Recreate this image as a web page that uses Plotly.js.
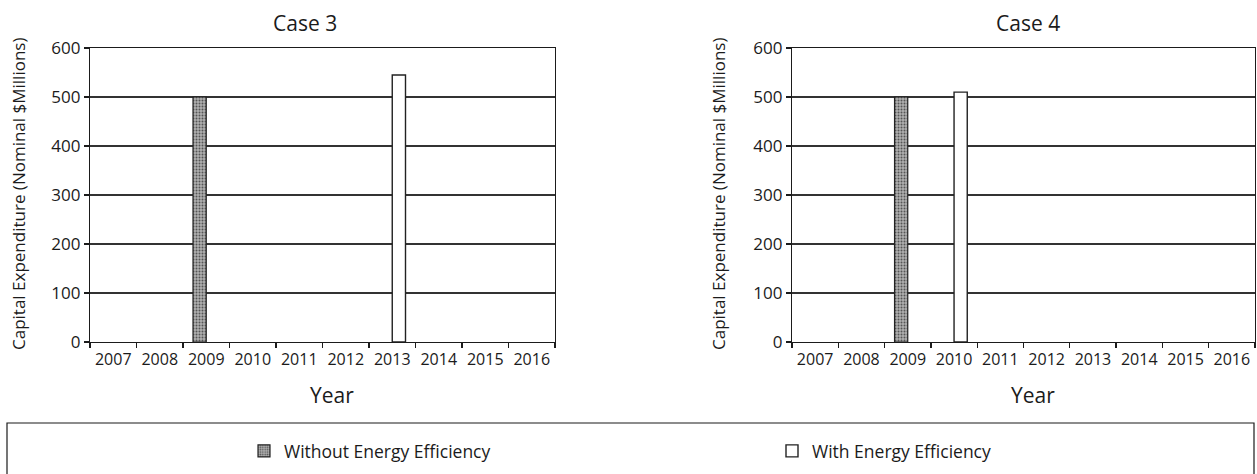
<!DOCTYPE html>
<html>
<head>
<meta charset="utf-8">
<script src="https://cdn.plot.ly/plotly-3.0.1.min.js"></script>
<style>html,body{margin:0;padding:0;background:#fff;}#chart{width:1257px;height:474px;}</style>
</head>
<body>
<div id="chart"></div>
<script>
// ---- data ----
const years = ['2007','2008','2009','2010','2011','2012','2013','2014','2015','2016'];
const case3Without = [0, 0, 500, 0, 0, 0, 0, 0, 0, 0];
const case3With    = [0, 0, 0, 0, 0, 0, 545, 0, 0, 0];
const case4Without = [0, 0, 500, 0, 0, 0, 0, 0, 0, 0];
const case4With    = [0, 0, 0, 510, 0, 0, 0, 0, 0, 0];
const seriesNames = ['Without Energy Efficiency', 'With Energy Efficiency'];
const panelTitles = ['Case 3', 'Case 4'];
const xTitle = 'Year';
const yTitle = 'Capital Expenditure (Nominal $Millions)';

// ---- layout helpers (pixel -> paper) ----
const W = 1257, H = 474;
const px = v => v / W;
const py = v => 1 - v / H;
const FONT = 'Open Sans, Noto Sans, sans-serif';
const INK = '#1b1b1b';
// zero-valued years have no visible bar in the chart
const vis = arr => arr.map(v => (v === 0 ? null : v));

const withoutStyle = {
  color: '#9c9c9c',
  line: {color: '#222', width: 1.2},
  pattern: {shape: '.', fgcolor: '#555', bgcolor: '#b0b0b0', size: 3, solidity: 0.35}
};
const withStyle = {color: '#ffffff', line: {color: '#222', width: 1.4}};

const traces = [
  {type: 'bar', x: years, y: vis(case3Without), name: seriesNames[0], marker: withoutStyle, xaxis: 'x', yaxis: 'y', legend: 'legend'},
  {type: 'bar', x: years, y: vis(case3With), name: seriesNames[1], marker: withStyle, xaxis: 'x', yaxis: 'y', legend: 'legend2'},
  {type: 'bar', x: years, y: vis(case4Without), name: seriesNames[0], marker: withoutStyle, xaxis: 'x2', yaxis: 'y2', showlegend: false},
  {type: 'bar', x: years, y: vis(case4With), name: seriesNames[1], marker: withStyle, xaxis: 'x2', yaxis: 'y2', showlegend: false}
];

function xAxis(d0, d1, anchor) {
  return {
    domain: [px(d0), px(d1)], anchor: anchor, type: 'category',
    range: [-0.5, 9.5], showline: true, linecolor: INK, linewidth: 1.2, mirror: true,
    ticks: 'outside', tickson: 'boundaries', ticklen: 5, tickcolor: INK, tickwidth: 1.2,
    tickfont: {family: FONT, size: 16, color: INK}, tickangle: 0, ticklabelstandoff: 3,
    showgrid: false, zeroline: false, fixedrange: true
  };
}
function yAxis(anchor) {
  return {
    domain: [py(342), py(48)], anchor: anchor, range: [0, 600], dtick: 100,
    showline: true, linecolor: INK, linewidth: 1.2, mirror: true,
    ticks: 'outside', ticklen: 5, tickcolor: INK, tickwidth: 1.2,
    tickfont: {family: FONT, size: 17, color: INK},
    showgrid: true, gridcolor: '#333333', gridwidth: 2, zeroline: false, fixedrange: true
  };
}

const ann = (text, x, y, size, angle) => ({
  text: text, x: px(x), y: py(y), xref: 'paper', yref: 'paper',
  xanchor: 'center', yanchor: 'middle', showarrow: false, textangle: angle || 0,
  font: {family: FONT, size: size, color: INK}
});
const legendBox = (x) => ({
  orientation: 'h', x: px(x), y: py(451), xanchor: 'left', yanchor: 'middle',
  itemwidth: 30, font: {family: FONT, size: 17.5, color: INK},
  bgcolor: 'rgba(0,0,0,0)', borderwidth: 0
});

const layout = {
  width: W, height: H,
  margin: {l: 0, r: 0, t: 0, b: 0},
  paper_bgcolor: '#fff', plot_bgcolor: '#fff',
  barmode: 'group', bargap: 0.43, bargroupgap: 0,
  xaxis: xAxis(90, 555, 'y'),
  yaxis: yAxis('x'),
  xaxis2: xAxis(792, 1255, 'y2'),
  yaxis2: yAxis('x2'),
  showlegend: true,
  legend: legendBox(244),
  legend2: legendBox(772),
  annotations: [
    ann(panelTitles[0], 305, 23, 21),
    ann(panelTitles[1], 1028, 23, 21),
    ann(xTitle, 332, 395, 21),
    ann(xTitle, 1033, 395, 21),
    ann(yTitle, 18, 194, 17, -90),
    ann(yTitle, 718, 194, 17, -90)
  ],
  shapes: [
    {type: 'rect', xref: 'paper', yref: 'paper', x0: px(7), x1: px(1254), y0: -0.05, y1: py(423),
     line: {color: INK, width: 1.2}, fillcolor: 'rgba(0,0,0,0)', layer: 'below'}
  ]
};

Plotly.newPlot('chart', traces, layout, {staticPlot: true, displayModeBar: false});
</script>
</body>
</html>
